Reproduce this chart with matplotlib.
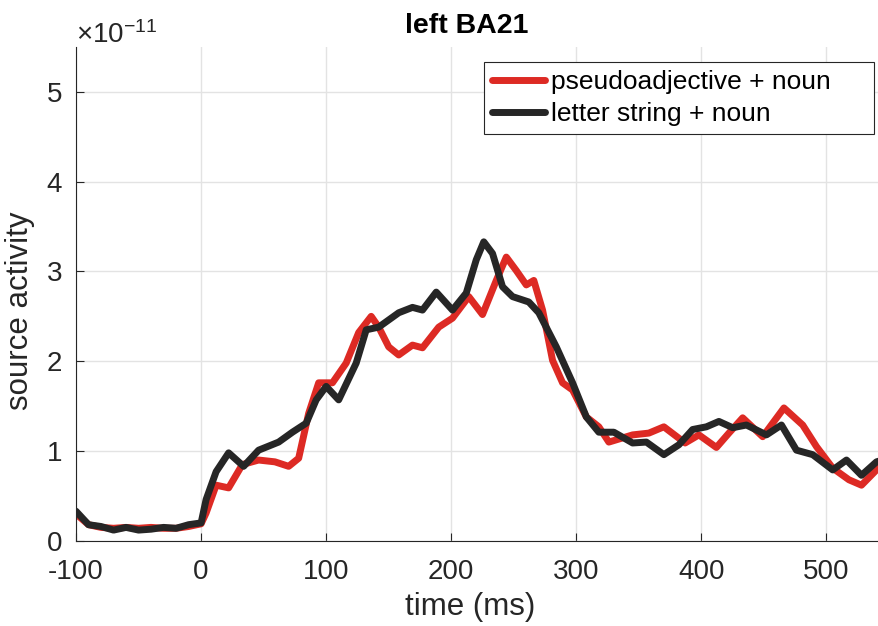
import numpy as np
import matplotlib.pyplot as plt
from matplotlib.ticker import ScalarFormatter

plt.rcParams['font.family'] = ['Liberation Sans', 'DejaVu Sans']
plt.rcParams['mathtext.fontset'] = 'custom'
plt.rcParams['mathtext.rm'] = 'Liberation Sans'
plt.rcParams['axes.unicode_minus'] = False

# time (ms) and source activity (x 1e-11)
t_pseudo = [-100, -90, -80, -70, -60, -50, -40, -30, -20, -10, 0, 4, 12, 22, 33, 46, 59, 70, 78,
            86, 94, 105, 116, 126, 136, 142, 150, 158, 169, 177, 190, 201, 214, 225, 236, 244,
            252, 260, 266, 273, 281, 289, 297, 308, 318, 326, 345, 358, 370, 387, 398, 412,
            422, 433, 449, 466, 481, 492, 505, 518, 528, 540, 545]
pseudo = [0.30, 0.18, 0.15, 0.14, 0.15, 0.14, 0.15, 0.14, 0.14, 0.16, 0.19, 0.31, 0.62, 0.59,
          0.85, 0.90, 0.88, 0.83, 0.92, 1.42, 1.76, 1.76, 1.98, 2.32, 2.50, 2.38, 2.16, 2.07,
          2.18, 2.15, 2.38, 2.48, 2.72, 2.52, 2.90, 3.16, 3.01, 2.85, 2.90, 2.57, 2.01, 1.76,
          1.68, 1.38, 1.27, 1.10, 1.18, 1.20, 1.27, 1.09, 1.18, 1.04, 1.20, 1.37, 1.16, 1.48,
          1.29, 1.05, 0.81, 0.68, 0.62, 0.79, 0.85]

t_letter = [-100, -90, -80, -70, -60, -50, -40, -30, -20, -10, 0, 4, 12, 22, 34, 46, 62, 73, 84,
            92, 100, 110, 124, 132, 142, 158, 169, 177, 188, 201, 212, 220, 226, 233, 241, 249,
            262, 270, 284, 297, 308, 318, 330, 345, 356, 370, 382, 393, 404, 414, 425, 436,
            452, 464, 476, 489, 505, 516, 528, 540, 545]
letter = [0.33, 0.18, 0.16, 0.12, 0.15, 0.12, 0.13, 0.15, 0.14, 0.18, 0.20, 0.46, 0.77, 0.98,
          0.83, 1.01, 1.10, 1.21, 1.31, 1.57, 1.72, 1.57, 1.98, 2.35, 2.38, 2.54, 2.60, 2.57,
          2.77, 2.57, 2.76, 3.13, 3.33, 3.20, 2.83, 2.72, 2.66, 2.54, 2.16, 1.76, 1.38, 1.21,
          1.21, 1.09, 1.10, 0.96, 1.07, 1.24, 1.27, 1.33, 1.26, 1.29, 1.18, 1.29, 1.01, 0.96,
          0.79, 0.90, 0.73, 0.88, 0.90]

scale = 1e-11
dark = '#262626'

fig = plt.figure(figsize=(8.79, 6.26), dpi=100)
ax = fig.add_axes([0.0865, 0.136, 0.9135, 0.789])

ax.plot(t_pseudo, np.array(pseudo) * scale, color='#dd2a24', lw=5,
        label='pseudoadjective + noun', solid_capstyle='round', solid_joinstyle='round')
ax.plot(t_letter, np.array(letter) * scale, color=dark, lw=5,
        label='letter string + noun', solid_capstyle='round', solid_joinstyle='round')

ax.set_xlim(-100, 542)
ax.set_ylim(0, 5.5e-11)
ax.set_xticks([-100, 0, 100, 200, 300, 400, 500])
ax.set_yticks(np.arange(0, 6) * scale)

fmt = ScalarFormatter(useMathText=True)
fmt.set_powerlimits((0, 0))
ax.yaxis.set_major_formatter(fmt)
ax.yaxis.get_offset_text().set_fontsize(20)
ax.yaxis.get_offset_text().set_color(dark)

ax.grid(True, color='#e3e3e3', lw=1)
ax.set_axisbelow(True)
ax.tick_params(direction='in', labelsize=20, colors=dark, length=6)
ax.tick_params(axis='x', pad=13)
ax.tick_params(axis='y', pad=10)
for s in ['top', 'right']:
    ax.spines[s].set_visible(False)
for s in ['left', 'bottom']:
    ax.spines[s].set_color(dark)

ax.set_xlabel('time (ms)', fontsize=22.5, color=dark)
ax.xaxis.set_label_coords(0.4907, -0.103)
ax.set_ylabel('source activity', fontsize=22.5, color=dark)
ax.yaxis.set_label_coords(-0.051, 0.466)
ax.set_title('left BA21', fontsize=20.5, fontweight='bold', pad=10, x=0.487)

leg = ax.legend(loc='upper left', bbox_to_anchor=(0.508, 0.9696, 0.4857, 0.0),
                mode='expand', borderaxespad=0, fontsize=19, handlelength=2.0,
                fancybox=False, framealpha=1, edgecolor=dark, borderpad=0.3,
                labelspacing=0.3, handletextpad=0.25)
leg.get_frame().set_linewidth(0.8)

fig.savefig('out.png', dpi=100)
